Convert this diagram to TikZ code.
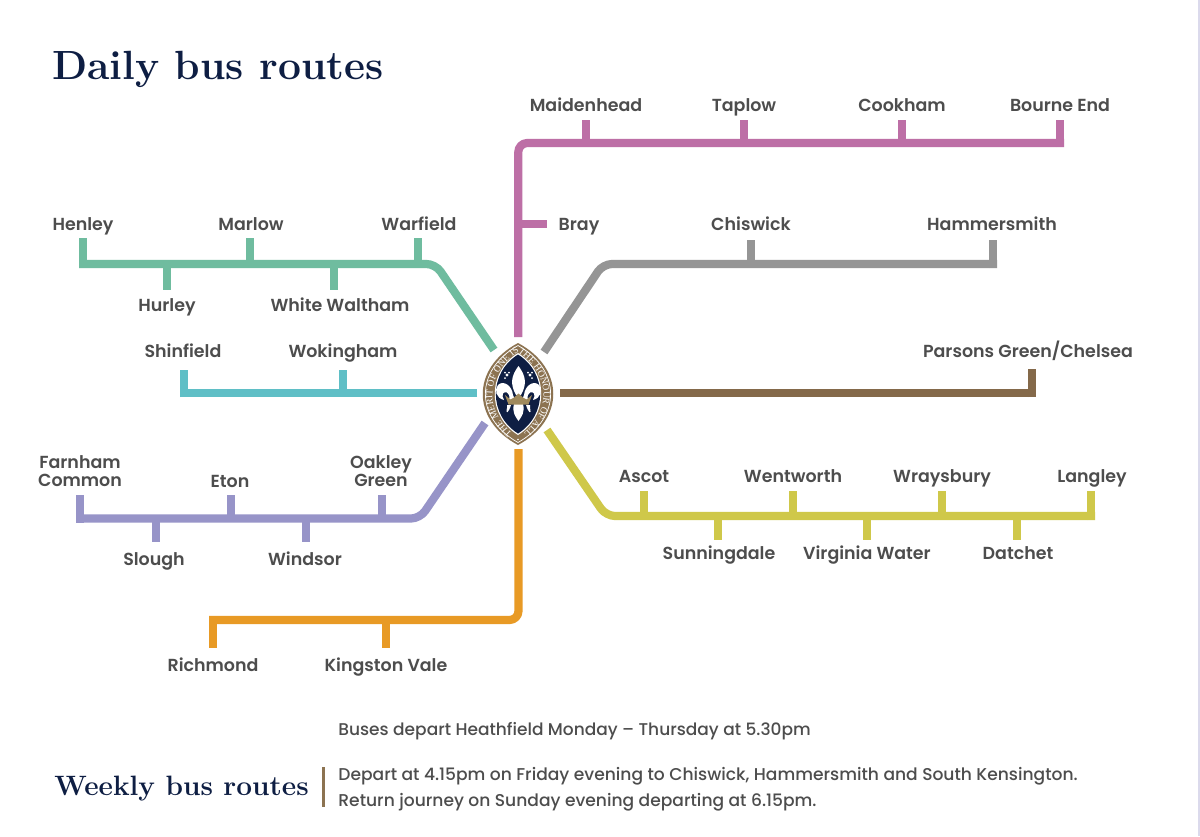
\documentclass[tikz,border=0pt]{standalone}
\usepackage{fontspec}
\setsansfont{Poppins}[BoldFont={Poppins SemiBold}]
\newfontfamily\infofont{Poppins Medium}
\newfontfamily\ringfont{Liberation Serif}
\usetikzlibrary{decorations.text}
\definecolor{pinkl}{HTML}{BD6FA6}
\definecolor{greenl}{HTML}{6FBC9F}
\definecolor{teall}{HTML}{5FBFC6}
\definecolor{purpl}{HTML}{9794C8}
\definecolor{orangel}{HTML}{E89A25}
\definecolor{yellowl}{HTML}{CFC84A}
\definecolor{brownl}{HTML}{84694A}
\definecolor{grayl}{HTML}{959595}
\definecolor{labc}{HTML}{4D4D4D}
\definecolor{navy}{HTML}{0E1E43}
\definecolor{tan}{HTML}{8C7351}
\definecolor{gold}{HTML}{A08A5C}
\tikzset{
  route/.style={line width=4.1pt,line join=round,rounded corners=4.5pt},
  stop/.style={line width=4.1pt},
  lab/.style={font=\sffamily\bfseries\fontsize{8.72}{9}\selectfont,text=labc,inner sep=0pt,align=center,anchor=base,yshift=-3.1pt},
  lab2/.style={font=\sffamily\bfseries\fontsize{8.72}{9}\selectfont,text=labc,inner sep=0pt,align=center},
  info/.style={font=\infofont\fontsize{8.55}{9}\selectfont,text=labc,inner sep=0pt,anchor=base west},
  head/.style={font=\rmfamily\bfseries\fontsize{20.4}{21}\selectfont,text=navy,inner sep=0pt,anchor=base west},
}
\begin{document}
\begin{tikzpicture}[x=0.5pt,y=-0.5pt]
\useasboundingbox (0,0) rectangle (1200,836);
\fill[white] (0,0) rectangle (1200,836);
\fill[purpl!35] (1197.5,0) rectangle (1200,836);

\node[head] (title) at (52,79) {Daily bus routes};
\node[head,font=\rmfamily\bfseries\fontsize{14}{15}\selectfont] (weekly) at (54,795) {Weekly bus routes};

% Emblem
\node[inner sep=0pt,minimum size=0pt] (emblem) at (518,394) {};
\fill[tan] (518,343) .. controls (471,368) and (471,420) .. (518,445) .. controls (565,420) and (565,368) .. (518,343) -- cycle;
\draw[white,line width=0.35pt] (518,345.5) .. controls (474.5,370) and (474.5,418) .. (518,442.5) .. controls (561.5,418) and (561.5,370) .. (518,345.5) -- cycle;
\path[decorate,decoration={text along path,text align=fit to path,raise=-1.6pt,
  text={|\ringfont\fontsize{4.7}{6}\selectfont\color{white}|THE MERIT OF ONE IS THE HONOUR OF ALL}}]
  (510,436) .. controls (481,410) and (481,374) .. (518,348.5) .. controls (555,374) and (555,410) .. (526,436);
\fill[white] (518,353) .. controls (487,372) and (487,416) .. (518,435) .. controls (549,416) and (549,372) .. (518,353) -- cycle;
\fill[navy] (518,354.5) .. controls (488.5,373) and (488.5,415) .. (518,433.5) .. controls (547.5,415) and (547.5,373) .. (518,354.5) -- cycle;
% fleur-de-lis
\fill[white] (518.5,366) .. controls (511,376) and (510,384) .. (516,395) -- (521,395) .. controls (527,384) and (526,376) .. (518.5,366) -- cycle;
\fill[white] (513,395) .. controls (512,385) and (503,380) .. (498,385) .. controls (494,390) and (496,398) .. (504,400) .. controls (501,395) and (503,391) .. (507,392.5) .. controls (509,393.5) and (510,396) .. (509,400) -- (515,400) -- cycle;
\fill[white] (524,395) .. controls (525,385) and (534,380) .. (539,385) .. controls (543,390) and (541,398) .. (533,400) .. controls (536,395) and (534,391) .. (530,392.5) .. controls (528,393.5) and (527,396) .. (528,400) -- (522,400) -- cycle;
\fill[white] (514,404) .. controls (512,412) and (515,416) .. (518.5,421) .. controls (522,416) and (525,412) .. (523,404) -- cycle;
\fill[white] (511,405) .. controls (509,412) and (505,416) .. (507,408) -- (507,405) -- cycle;
\fill[white] (526,405) .. controls (528,412) and (532,416) .. (530,408) -- (530,405) -- cycle;
\fill[white] (507,375) circle (1.7) (530,375) circle (1.7);
\fill[white] (505,372.5) circle (1) (509,372.5) circle (1) (505,378) circle (1) (528,372.5) circle (1) (532,372.5) circle (1) (532,378) circle (1);
\fill[gold] (505,395) -- (510.5,399.5) -- (514,397.5) -- (518.5,393.5) -- (523,397.5) -- (526.5,399.5) -- (532,395) -- (528.5,404.5) -- (508.5,404.5) -- cycle;
\fill[white] (518,439.5) circle (0.9);

% stop coordinates
\foreach \n/\x/\y in {
  pa/518.3/337, pb/518.3/143, pc/1064/143, pc2/1060/147, pd/1060/120, pm/586/143, pme/586/120, pt/744/143, pte/744/120, pk/902/143, pke/902/120, pr/518/224, pre/547/224,
  ga/494/350, gb/435.5/264, gc/79/264, gc2/83/268, gd/83/238, gm/250/264, gme/250/238, gw/418/264, gwe/418/238, gh/167/264, ghe/167/290, gl/334/264, gle/334/290,
  ta/477/393, tb/180/393, tb2/184/397, tc/184/370, tw/343/393, twe/343/370,
  ua/485/423, ub/420/518.5, uc/76/518.5, uc2/80/522.5, ud/80/495, ue/231/518, uee/231/495, uo/382/518, uoe/382/495, us/156/518, use/156/542, uw/306/518, uwe/306/542,
  oa/518.5/449, ob/518.5/620, oc/209/620, oc2/213/616, od/213/648, ok/386/620, oke/386/648,
  ya/547/430, yb/606/516, yc/1095/516, yc2/1091/520, yd/1091/491, y1/644/516, y1e/644/491, y2/793/516, y2e/793/491, y3/942/516, y3e/942/491, y4/718/516, y4e/718/540, y5/867/516, y5e/867/540, y6/1017/516, y6e/1017/540,
  ba/560/393, bb/1036/393, bb3/1032/397, bc/1032/369,
  ea/544/352, eb/603/264, ec/997/264, ec2/993/268, ed/993/240, e1/751/264, e1e/751/240}
  {\coordinate (\n) at (\x,\y);}

% routes
\draw[route,pinkl] (pa) -- (pb) -- (pc);
\draw[stop,pinkl] (pc2) -- (pd) (pm) -- (pme) (pt) -- (pte) (pk) -- (pke) (pr) -- (pre);
\draw[route,greenl] (ga) -- (gb) -- (gc);
\draw[stop,greenl] (gc2) -- (gd) (gm) -- (gme) (gw) -- (gwe) (gh) -- (ghe) (gl) -- (gle);
\draw[stop,teall] (ta) -- (tb) (tb2) -- (tc) (tw) -- (twe);
\draw[route,purpl] (ua) -- (ub) -- (uc);
\draw[stop,purpl] (uc2) -- (ud) (ue) -- (uee) (uo) -- (uoe) (us) -- (use) (uw) -- (uwe);
\draw[route,orangel] (oa) -- (ob) -- (oc);
\draw[stop,orangel] (oc2) -- (od) (ok) -- (oke);
\draw[route,yellowl] (ya) -- (yb) -- (yc);
\draw[stop,yellowl] (yc2) -- (yd) (y1) -- (y1e) (y2) -- (y2e) (y3) -- (y3e) (y4) -- (y4e) (y5) -- (y5e) (y6) -- (y6e);
\draw[stop,brownl] (ba) -- (bb) (bb3) -- (bc);
\draw[route,grayl] (ea) -- (eb) -- (ec);
\draw[stop,grayl] (ec2) -- (ed) (e1) -- (e1e);

% labels
\foreach \n/\x/\y/\t in {
  l1/586/105/Maidenhead, l2/744/105/Taplow, l3/902/105/Cookham, l4/1060/105/Bourne End, l5/579/224/Bray,
  l6/751/224/Chiswick, l7/992/224/Hammersmith, l8/83/224/Henley, l9/251/224/Marlow, l10/419/224/Warfield,
  l11/167/305/Hurley, l12/340/305/White Waltham, l13/183/351/Shinfield, l14/343/351/Wokingham,
  l15/1028/351/Parsons Green\slash Chelsea, l16/230/481/Eton, l17/154/559/Slough, l18/305/559/Windsor,
  l19/644/476/Ascot, l20/793/476/Wentworth, l21/942/476/Wraysbury, l22/1092/476/Langley,
  l23/719/553/Sunningdale, l24/867/553/Virginia Water, l25/1018/553/Datchet,
  l26/213/665/Richmond, l27/386/665/Kingston Vale}
  {\node[lab] (\n) at (\x,\y) {\t};}
\node[lab2] (l28) at (80,471) {Farnham\\Common};
\node[lab2] (l29) at (381,471) {Oakley\\Green};

% footer
\node[info,font=\infofont\fontsize{8.5}{9}\selectfont] (f1) at (338,735) {Buses depart Heathfield Monday – Thursday at 5.30pm};
\node[info] (f2) at (338,780) {Depart at 4.15pm on Friday evening to Chiswick, Hammersmith and South Kensington.};
\node[info] (f3) at (338,806) {Return journey on Sunday evening departing at 6.15pm.};
\coordinate (bt) at (323,767);
\coordinate (bb2) at (323,807);
\draw[tan,line width=1.5pt] (bt) -- (bb2);
\end{tikzpicture}
\end{document}
